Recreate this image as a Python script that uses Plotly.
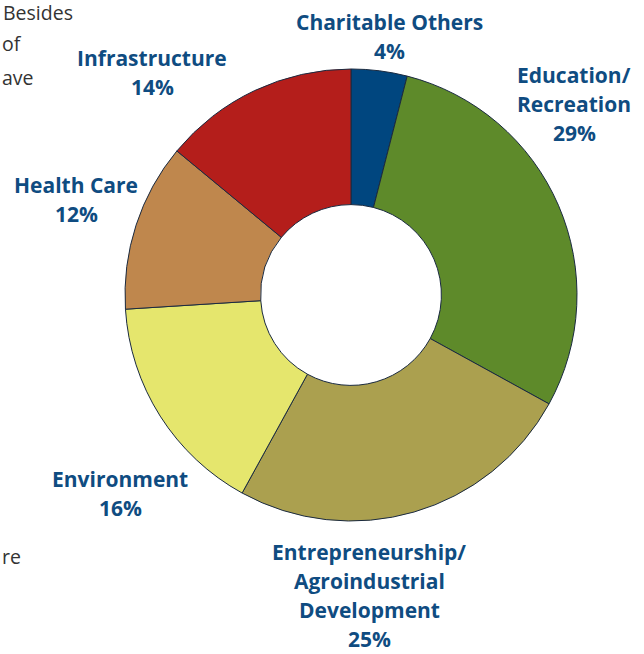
import plotly.graph_objects as go

categories = ["Charitable Others", "Education/Recreation",
              "Entrepreneurship/Agroindustrial Development",
              "Environment", "Health Care", "Infrastructure"]
shares = [4, 29, 25, 16, 12, 14]
colors = ["#00467f", "#5e8a2a", "#aba04f", "#e5e66d", "#bf874d", "#b41e1b"]

# label text blocks (name lines + percentage) and their placement
label_lines = [
    ["Charitable Others"],
    ["Education/", "Recreation"],
    ["Entrepreneurship/", "Agroindustrial", "Development"],
    ["Environment"],
    ["Health Care"],
    ["Infrastructure"],
]
label_pos = [(389, 22), (574, 75), (369, 552), (120, 479), (76, 185), (152, 58)]

W, H = 644, 654
cx, cy, R = 351, 295, 226

fig = go.Figure(go.Pie(
    labels=categories,
    values=shares,
    hole=0.4,
    sort=False,
    direction="clockwise",
    rotation=0,
    marker=dict(colors=colors, line=dict(color="#1a2a40", width=1)),
    textinfo="none",
    hoverinfo="label+percent",
    showlegend=False,
    domain=dict(x=[(cx - R) / W, (cx + R) / W],
                y=[1 - (cy + R) / H, 1 - (cy - R) / H]),
))

line_h = 29.0
label_color = "#0f4c81"
for lines, share, (x, y) in zip(label_lines, shares, label_pos):
    for i, t in enumerate(lines + [f"{share}%"]):
        fig.add_annotation(
            x=x / W, y=1 - (y + i * line_h) / H, xref="paper", yref="paper",
            text=f"<b>{t}</b>", showarrow=False,
            xanchor="center", yanchor="middle",
            font=dict(family="Open Sans", size=21, color=label_color),
        )

# fragments of surrounding body text at the left edge
body_text = [("Besides", 1, 12), ("of", 0, 44), ("ave", 0, 78), ("re", 0, 556)]
for t, xl, y in body_text:
    fig.add_annotation(
        x=xl / W, y=1 - y / H, xref="paper", yref="paper",
        text=t, showarrow=False, xanchor="left", yanchor="middle",
        font=dict(family="Open Sans", size=19.5, color="#333333"),
    )

fig.update_layout(
    width=W, height=H,
    margin=dict(l=0, r=0, t=0, b=0),
    paper_bgcolor="white", plot_bgcolor="white",
)

fig.write_html("out.html")
